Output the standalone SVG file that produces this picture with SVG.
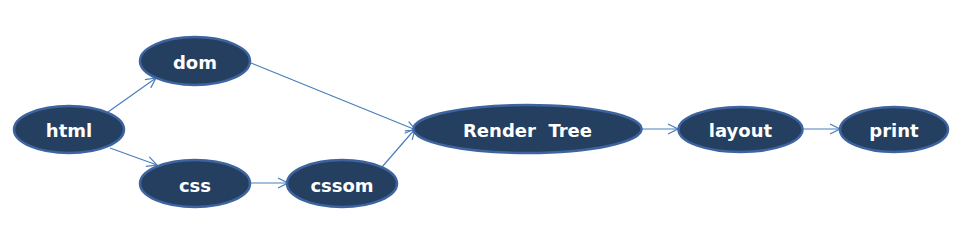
<svg xmlns="http://www.w3.org/2000/svg" width="958" height="232" viewBox="0 0 958 232">
<style>
.n ellipse{fill:#243f60;stroke:#3e64a0;stroke-width:2.5}
.n text{fill:#fff;font-family:"Comic Sans MS","DejaVu Sans",sans-serif;font-weight:bold;font-size:18px;text-anchor:middle;dominant-baseline:central}
.c path{fill:none;stroke:#4a7ebb;stroke-width:1.2;marker-end:url(#a)}
</style>
<defs>
<marker id="a" viewBox="0 0 12 12" refX="11" refY="6" markerWidth="12" markerHeight="12" markerUnits="userSpaceOnUse" orient="auto">
<path d="M1,1 L11,6 L1,11" fill="none" stroke="#4a7ebb" stroke-width="1.2"/>
</marker>
</defs>
<rect width="958" height="232" fill="#fff"/>
<g class="c">
<path d="M108,112 L156,78"/>
<path d="M110,148 L157,165"/>
<path d="M251,63 L416,130"/>
<path d="M250,183 L288,183"/>
<path d="M382,167 L415,129"/>
<path d="M642,129 L678,129"/>
<path d="M803,129 L840,129"/>
</g>
<g class="n" id="html"><ellipse cx="69" cy="129.5" rx="55" ry="23.5"/><text x="69" y="130">html</text></g>
<g class="n" id="dom"><ellipse cx="195" cy="61" rx="55" ry="24"/><text x="195" y="62">dom</text></g>
<g class="n" id="css"><ellipse cx="195" cy="183.5" rx="55" ry="23.5"/><text x="195" y="185">css</text></g>
<g class="n" id="cssom"><ellipse cx="342" cy="183.5" rx="55" ry="23.5"/><text x="342" y="185">cssom</text></g>
<g class="n" id="render-tree"><ellipse cx="527.5" cy="129" rx="114" ry="24"/><text x="527.5" y="130" xml:space="preserve">Render  Tree</text></g>
<g class="n" id="layout"><ellipse cx="740.5" cy="129.5" rx="62" ry="22.5"/><text x="740.5" y="130">layout</text></g>
<g class="n" id="print"><ellipse cx="894" cy="129.5" rx="54" ry="22.5"/><text x="894" y="130">print</text></g>
</svg>
